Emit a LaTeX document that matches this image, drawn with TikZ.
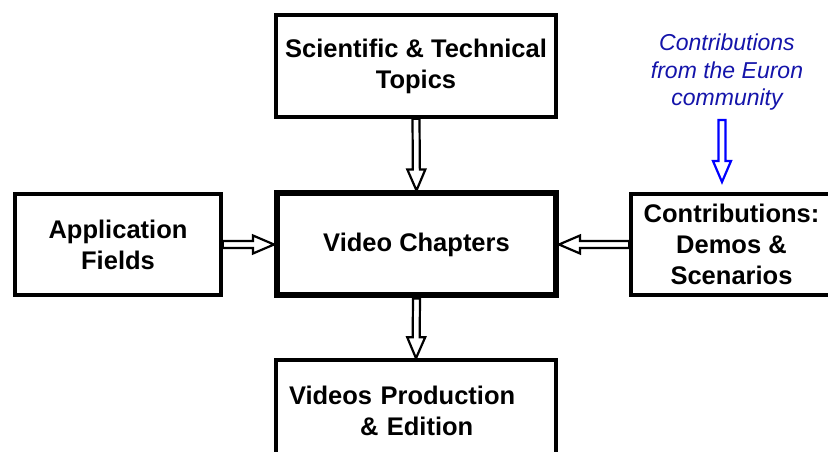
\documentclass[tikz,border=0pt]{standalone}
\usepackage{fontspec}
\setmainfont{Liberation Sans}
\usetikzlibrary{calc}
\definecolor{euronblue}{RGB}{20,20,170}
\tikzset{
    box/.style={draw, line width=3.5pt, fill=white, align=center, minimum width=280pt, minimum height=102pt, font=\fontsize{25.5}{31}\selectfont\bfseries},
    hollow/.style={line width=2.2pt, fill=white, line join=miter, to path={
        ($(\tikztostart)!3.5pt!90:(\tikztotarget)$)
        -- ($(\tikztotarget)!21pt!(\tikztostart)!3.5pt!90:(\tikztotarget)$)
        -- ($(\tikztotarget)!21pt!(\tikztostart)!9pt!90:(\tikztotarget)$)
        -- (\tikztotarget)
        -- ($(\tikztotarget)!21pt!(\tikztostart)!9pt!-90:(\tikztotarget)$)
        -- ($(\tikztotarget)!21pt!(\tikztostart)!3.5pt!-90:(\tikztotarget)$)
        -- ($(\tikztostart)!3.5pt!-90:(\tikztotarget)$) -- cycle}}
}
\begin{document}
\begin{tikzpicture}[x=1pt,y=1pt]
    \useasboundingbox (0,0) rectangle (828,452);
    \node [box] (topic) at (416,386) {Scientific \& Technical\\Topics};
    \node [box, line width=6pt, minimum width=279pt] (chap) at (416.5,207.5) {Video Chapters};
    \node [box, minimum width=206pt, minimum height=101pt] (field) at (118,207.5) {Application\\Fields};
    \node [box, minimum width=201pt, minimum height=101pt] (demo) at (731.5,207.5) {Contributions:\\Demos \&\\Scenarios};
    \node [box, text width=254pt, inner xsep=13pt, align=left] (prod) at (416,41) {Videos Production\\\hspace*{71pt}\& Edition};
    \node [text=euronblue, align=center, font=\fontsize{23}{27.5}\selectfont\itshape] (euron) at (727,379.5) {Contributions\\from the Euron\\community};
    \coordinate (drop) at (722,332);
    \coordinate (land) at (722,270);
    \draw [hollow] (topic.south) to (chap.north);
    \draw [hollow] (chap.south) to (prod.north);
    \draw [hollow] (field.east) to (chap.west);
    \draw [hollow] (demo.west) to (chap.east);
    \draw [hollow, draw=blue] (drop) to (land);
\end{tikzpicture}
\end{document}
